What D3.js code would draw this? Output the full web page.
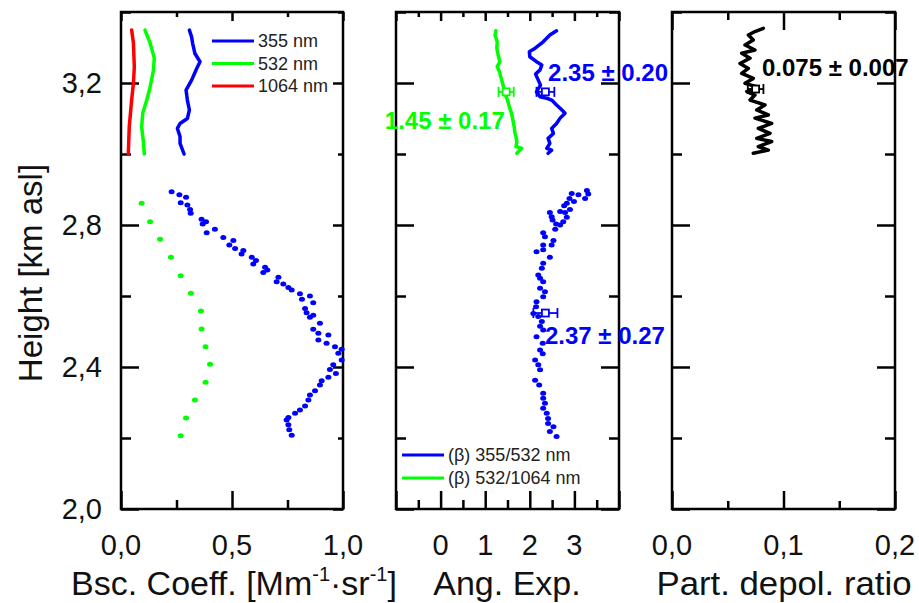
<!DOCTYPE html>
<html><head><meta charset="utf-8">
<script src="https://cdn.jsdelivr.net/npm/d3@7"></script>
<style>
body{margin:0;background:#fff}
svg{display:block}
text{font-family:"Liberation Sans",Arial,Helvetica,sans-serif}
</style>
</head><body>
<svg id="c" width="919" height="603"></svg>
<script>
// ---------------- DATA ----------------
const heightMajor = [2.0, 2.4, 2.8, 3.2];
const heightMinor = [2.2, 2.6, 3.0, 3.4];
const heightLabels = ["2,0", "2,4", "2,8", "3,2"];

const bscMajor = [0, 0.5, 1.0];
const bscMinor = [0.25, 0.75];
const bscLabels = ["0,0", "0,5", "1,0"];

const angMajor = [-1, 0, 1, 2, 3, 4];
const angMinor = [-0.5, 0.5, 1.5, 2.5, 3.5];
const angLabelValues = [0, 1, 2, 3];
const angLabels = ["0", "1", "2", "3"];

const depMajor = [0, 0.1, 0.2];
const depMinor = [0.05, 0.15];
const depLabels = ["0,0", "0,1", "0,2"];

const legendBsc = ["355 nm", "532 nm", "1064 nm"];
const legendAng = ["(\u03b2) 355/532 nm", "(\u03b2) 532/1064 nm"];

// backscatter, upper layer (solid lines): [value, height km]
const bsc1064Line = [[0.048,3.349],[0.056,3.313],[0.060,3.245],[0.056,3.200],[0.048,3.152],[0.037,3.076],[0.033,3.000]];
const bsc532Line = [[0.108,3.349],[0.131,3.313],[0.150,3.270],[0.146,3.236],[0.131,3.188],[0.116,3.152],[0.098,3.115],[0.093,3.076],[0.100,3.039],[0.105,3.000]];
const bsc355Line = [[0.308,3.349],[0.318,3.330],[0.323,3.311],[0.333,3.283],[0.356,3.260],[0.341,3.241],[0.318,3.208],[0.293,3.180],[0.299,3.152],[0.308,3.124],[0.299,3.100],[0.266,3.086],[0.254,3.072],[0.266,3.049],[0.266,3.030],[0.284,3.000]];

// backscatter, lower layer (dots)
const bsc355Dots = [[0.228,2.894],[0.263,2.885],[0.293,2.878],[0.269,2.863],[0.299,2.856],[0.311,2.844],[0.314,2.833],[0.363,2.816],[0.383,2.809],[0.368,2.803],[0.386,2.778],[0.423,2.788],[0.461,2.765],[0.506,2.756],[0.488,2.744],[0.514,2.734],[0.551,2.728],[0.543,2.718],[0.589,2.709],[0.608,2.700],[0.596,2.690],[0.649,2.681],[0.641,2.666],[0.659,2.673],[0.709,2.653],[0.701,2.640],[0.731,2.634],[0.754,2.624],[0.769,2.617],[0.806,2.606],[0.851,2.600],[0.815,2.591],[0.866,2.581],[0.829,2.565],[0.836,2.553],[0.866,2.546],[0.851,2.540],[0.896,2.523],[0.866,2.506],[0.889,2.495],[0.934,2.490],[0.889,2.476],[0.926,2.467],[0.964,2.457],[0.994,2.450],[0.979,2.439],[0.994,2.420],[0.956,2.406],[0.941,2.393],[0.968,2.382],[0.934,2.371],[0.904,2.361],[0.896,2.349],[0.874,2.333],[0.851,2.321],[0.844,2.307],[0.829,2.290],[0.806,2.279],[0.784,2.270],[0.754,2.258],[0.746,2.251],[0.754,2.237],[0.758,2.223],[0.769,2.208]];
const bsc532Dots = [[0.093,2.861],[0.131,2.809],[0.176,2.760],[0.225,2.709],[0.269,2.657],[0.315,2.608],[0.360,2.558],[0.363,2.507],[0.381,2.457],[0.401,2.408],[0.381,2.357],[0.333,2.307],[0.293,2.256],[0.269,2.206]];

// Angstrom exponent, upper layer (solid lines)
const ang355532Line = [[2.60,3.347],[2.45,3.335],[2.30,3.316],[2.12,3.298],[1.99,3.288],[2.00,3.274],[2.15,3.260],[2.27,3.251],[2.23,3.237],[2.13,3.225],[2.19,3.208],[2.24,3.194],[2.15,3.175],[2.23,3.161],[2.38,3.157],[2.49,3.152],[2.60,3.138],[2.72,3.124],[2.79,3.115],[2.68,3.101],[2.60,3.086],[2.49,3.072],[2.53,3.058],[2.41,3.044],[2.45,3.030],[2.38,3.016],[2.49,3.011],[2.41,3.002]];
const ang5321064Line = [[1.24,3.347],[1.22,3.335],[1.27,3.316],[1.26,3.298],[1.29,3.279],[1.33,3.260],[1.27,3.246],[1.32,3.232],[1.37,3.208],[1.41,3.190],[1.44,3.171],[1.50,3.152],[1.54,3.133],[1.59,3.115],[1.62,3.096],[1.65,3.077],[1.67,3.058],[1.69,3.049],[1.71,3.035],[1.69,3.021],[1.82,3.016],[1.71,3.002]];

// Angstrom exponent 355/532, lower layer (dots)
const ang355532Dots = [[3.28,2.897],[3.31,2.887],[3.09,2.885],[3.24,2.875],[2.94,2.889],[2.89,2.875],[2.99,2.866],[2.83,2.861],[2.77,2.854],[2.90,2.844],[2.79,2.835],[2.68,2.838],[2.45,2.835],[2.49,2.823],[2.83,2.822],[2.75,2.809],[2.59,2.803],[2.51,2.814],[2.68,2.800],[2.57,2.788],[2.30,2.778],[2.34,2.767],[2.53,2.756],[2.49,2.744],[2.30,2.744],[2.15,2.725],[2.30,2.730],[2.45,2.709],[2.30,2.692],[2.27,2.678],[2.19,2.659],[2.23,2.650],[2.30,2.640],[2.23,2.622],[2.34,2.612],[2.30,2.598],[2.15,2.584],[2.14,2.570],[2.08,2.551],[2.19,2.542],[2.27,2.528],[2.23,2.515],[2.30,2.504],[2.15,2.485],[2.29,2.467],[2.23,2.448],[2.29,2.437],[2.12,2.420],[2.19,2.406],[2.23,2.392],[2.12,2.363],[2.21,2.349],[2.30,2.326],[2.30,2.312],[2.34,2.298],[2.30,2.284],[2.38,2.270],[2.41,2.255],[2.41,2.241],[2.53,2.232],[2.45,2.218],[2.60,2.204]];

// particle depolarization ratio (solid line)
const depolLine = [[0.0819,3.354],[0.0744,3.345],[0.0685,3.335],[0.0729,3.321],[0.0655,3.307],[0.0744,3.293],[0.0625,3.284],[0.0700,3.270],[0.0610,3.255],[0.0685,3.241],[0.0625,3.227],[0.0729,3.213],[0.0655,3.199],[0.0774,3.188],[0.0670,3.176],[0.0744,3.166],[0.0700,3.152],[0.0834,3.138],[0.0760,3.124],[0.0864,3.110],[0.0744,3.101],[0.0894,3.086],[0.0774,3.072],[0.0879,3.058],[0.0760,3.044],[0.0894,3.035],[0.0774,3.021],[0.0864,3.011],[0.0729,3.002]];

// layer means with error bars: [mean, error, height]
const angMean355532Upper = [2.35, 0.20, 3.175];
const angMean5321064Upper = [1.47, 0.17, 3.175];
const angMean355532Lower = [2.35, 0.27, 2.552];
const depolMeanUpper = [0.075, 0.007, 3.183];

const annotations = ["2.35 \u00b1 0.20", "1.45 \u00b1 0.17", "2.37 \u00b1 0.27", "0.075 \u00b1 0.007"];

// ---------------- DRAW ----------------
const BLUE = "#0000ff", GREEN = "#00ff00", RED = "#ff0000", BLACK = "#000";
const svg = d3.select("#c");
const H = d3.scaleLinear().domain([2.0, 3.4]).range([509, 12]);
const xB = d3.scaleLinear().domain([0, 1]).range([121, 343]);
const xA = d3.scaleLinear().domain([-1, 4]).range([396, 619]);
const xD = d3.scaleLinear().domain([0, 0.2]).range([672, 895]);

function ticks(x, o) {
  const [x0, x1] = x.range(), [y0, y1] = [H.range()[1], H.range()[0]];
  const add = (axisFn, scale, vals, len, tr) => {
    const g = svg.append("g").attr("transform", tr)
      .call(axisFn(scale).tickValues(vals).tickSizeInner(len).tickSizeOuter(0).tickFormat(""));
    g.select(".domain").remove();
    g.selectAll(".tick line").attr("stroke", BLACK).attr("stroke-width", 2.5);
  };
  add(d3.axisRight, H, heightMajor, o.lM, `translate(${x0},0)`);
  add(d3.axisRight, H, heightMinor, o.lm, `translate(${x0},0)`);
  add(d3.axisLeft, H, heightMajor, o.rM, `translate(${x1},0)`);
  add(d3.axisLeft, H, heightMinor, o.rm, `translate(${x1},0)`);
  add(d3.axisBottom, x, o.xMaj, o.tM, `translate(0,${y0})`);
  add(d3.axisBottom, x, o.xMin, o.tm, `translate(0,${y0})`);
  add(d3.axisTop, x, o.xMaj, o.bM, `translate(0,${y1})`);
  add(d3.axisTop, x, o.xMin, o.bm, `translate(0,${y1})`);
  svg.append("rect").attr("x", x0).attr("y", y0).attr("width", x1 - x0).attr("height", y1 - y0)
    .attr("fill", "none").attr("stroke", BLACK).attr("stroke-width", 2.5);
}
ticks(xB, {lM:18, lm:10, rM:10, rm:5, tM:9, tm:5, bM:18, bm:9, xMaj:bscMajor, xMin:bscMinor});
ticks(xA, {lM:18, lm:10, rM:18, rm:10, tM:9, tm:5, bM:18, bm:9, xMaj:angMajor, xMin:angMinor});
ticks(xD, {lM:18, lm:10, rM:18, rm:10, tM:18, tm:8, bM:18, bm:8, xMaj:depMajor, xMin:depMinor});

// tick labels
svg.append("g").selectAll("text").data(heightMajor).join("text")
  .attr("x", 102).attr("y", d => H(d)).attr("dy", "0.36em").attr("text-anchor", "end")
  .attr("font-size", 29).attr("fill", "#111").text((d, i) => heightLabels[i]);
function xLabels(x, vals, labs) {
  svg.append("g").selectAll("text").data(vals).join("text")
    .attr("x", d => x(d)).attr("y", 555).attr("text-anchor", "middle")
    .attr("font-size", 29).attr("fill", "#111").text((d, i) => labs[i]);
}
xLabels(xB, bscMajor, bscLabels);
xLabels(xA, angLabelValues, angLabels);
xLabels(xD, depMajor, depLabels);

// axis titles
svg.append("text").attr("transform", "translate(42,273) rotate(-90)").attr("text-anchor", "middle")
  .attr("font-size", 33).attr("fill", "#111").text("Height [km asl]");
const tB = svg.append("text").attr("x", 234).attr("y", 595).attr("text-anchor", "middle")
  .attr("font-size", 34).attr("fill", "#111");
tB.append("tspan").text("Bsc. Coeff. [Mm");
tB.append("tspan").attr("dy", -14).attr("font-size", 20).text("-1");
tB.append("tspan").attr("dy", 14).text("\u00b7sr");
tB.append("tspan").attr("dy", -14).attr("font-size", 20).text("-1");
tB.append("tspan").attr("dy", 14).text("]");
svg.append("text").attr("x", 507).attr("y", 595).attr("text-anchor", "middle")
  .attr("font-size", 34).attr("fill", "#111").text("Ang. Exp.");
svg.append("text").attr("x", 784).attr("y", 595).attr("text-anchor", "middle")
  .attr("font-size", 34).attr("fill", "#111")
  .attr("textLength", 255).attr("lengthAdjust", "spacingAndGlyphs").text("Part. depol. ratio");

// lines
function drawLine(x, data, color) {
  svg.append("path").datum(data)
    .attr("d", d3.line().x(d => x(d[0])).y(d => H(d[1])))
    .attr("fill", "none").attr("stroke", color).attr("stroke-width", 3.5)
    .attr("stroke-linejoin", "round").attr("stroke-linecap", "round");
}
function drawDots(x, data, color) {
  svg.append("g").selectAll("ellipse").data(data).join("ellipse")
    .attr("cx", d => x(d[0])).attr("cy", d => H(d[1])).attr("rx", 3).attr("ry", 2.5)
    .attr("fill", color);
}
drawLine(xB, bsc1064Line, RED);
drawLine(xB, bsc532Line, GREEN);
drawLine(xB, bsc355Line, BLUE);
drawDots(xB, bsc532Dots, GREEN);
drawDots(xB, bsc355Dots, BLUE);

drawLine(xA, ang5321064Line, GREEN);
drawLine(xA, ang355532Line, BLUE);
drawDots(xA, ang355532Dots, BLUE);

drawLine(xD, depolLine, BLACK);

// error bars
function errBar(x, m, color) {
  const g = svg.append("g").attr("stroke", color).attr("stroke-width", 1.8).attr("fill", "none");
  const cx = x(m[0]), cy = H(m[2]), lo = x(m[0] - m[1]), hi = x(m[0] + m[1]);
  g.append("line").attr("x1", lo).attr("x2", hi).attr("y1", cy).attr("y2", cy);
  g.append("line").attr("x1", lo).attr("x2", lo).attr("y1", cy - 5).attr("y2", cy + 5);
  g.append("line").attr("x1", hi).attr("x2", hi).attr("y1", cy - 5).attr("y2", cy + 5);
  g.append("rect").attr("x", cx - 3.5).attr("y", cy - 3.5).attr("width", 7).attr("height", 7).attr("fill", "#fff");
}
errBar(xA, angMean5321064Upper, GREEN);
errBar(xA, angMean355532Upper, BLUE);
errBar(xA, angMean355532Lower, BLUE);
errBar(xD, depolMeanUpper, BLACK);

// annotations
function annot(x, xv, hv, txt, color) {
  svg.append("text").attr("x", x(xv)).attr("y", H(hv)).attr("font-size", 24)
    .attr("font-weight", "bold").attr("fill", color).text(txt);
}
annot(xA, 2.41, 3.206, annotations[0], BLUE);
annot(xA, -1.25, 3.071, annotations[1], GREEN);
annot(xA, 2.34, 2.466, annotations[2], BLUE);
annot(xD, 0.0807, 3.221, annotations[3], BLACK);

// legends
function legend(x0, y0, dy, labels, colors) {
  labels.forEach((l, i) => {
    svg.append("line").attr("x1", x0).attr("x2", x0 + 42).attr("y1", y0 + i * dy).attr("y2", y0 + i * dy)
      .attr("stroke", colors[i]).attr("stroke-width", 3);
    svg.append("text").attr("x", x0 + 46).attr("y", y0 + i * dy).attr("dy", "0.35em")
      .attr("font-size", 18).attr("fill", "#222").text(l);
  });
}
legend(212, 41, 22.5, legendBsc, [BLUE, GREEN, RED]);
legend(402, 455, 23, legendAng, [BLUE, GREEN]);
</script>
</body></html>
